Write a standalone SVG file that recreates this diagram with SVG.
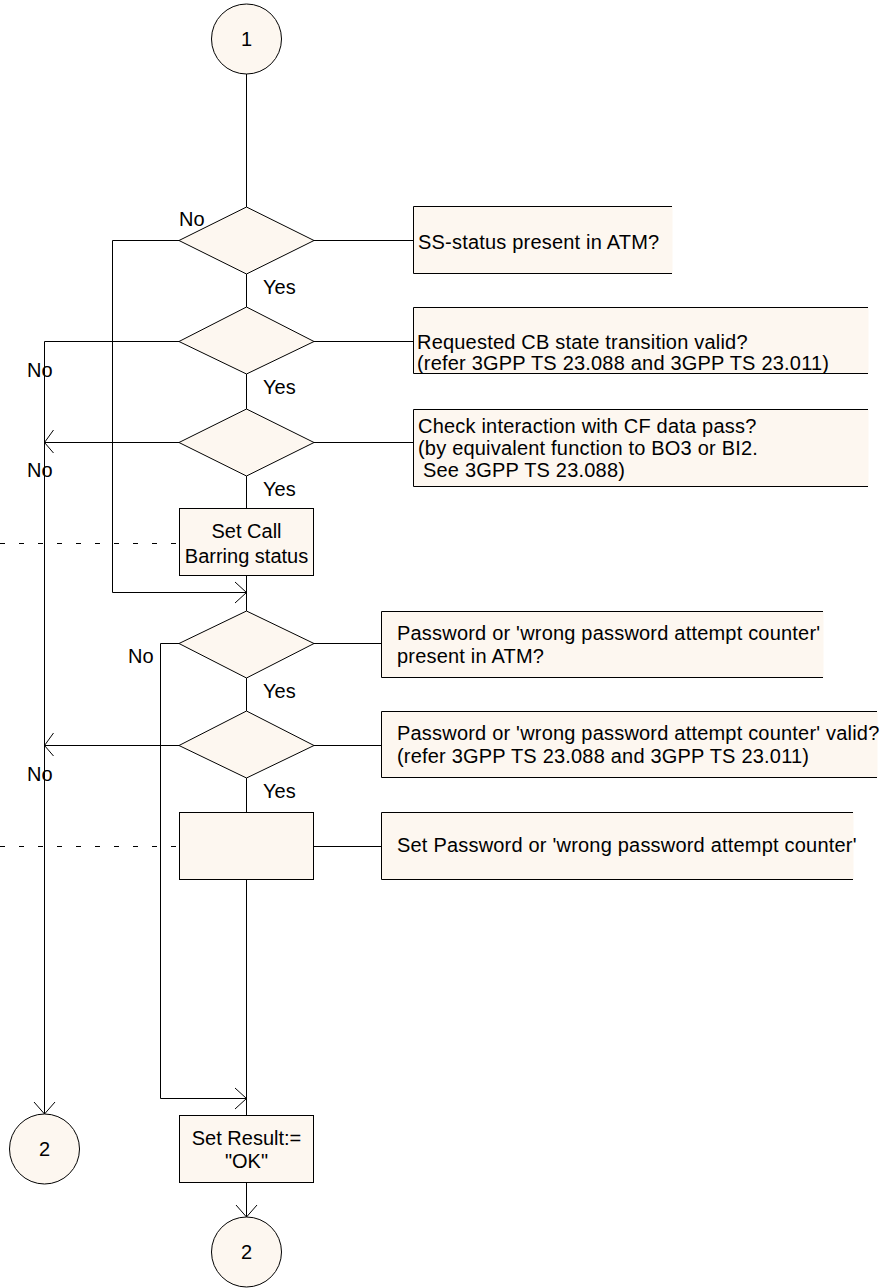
<svg xmlns="http://www.w3.org/2000/svg" width="882" height="1288" viewBox="0 0 882 1288">
  <style>
    .sym { fill: #FDF7F0; stroke: #000; stroke-width: 1; }
    .note { fill: #FDF7F0; stroke: none; }
    .edge { fill: none; stroke: #000; stroke-width: 1; }
    .dash { fill: none; stroke: #000; stroke-width: 1; stroke-dasharray: 5 14; }
    text { font-family: "Liberation Sans", Arial, sans-serif; font-size: 20px; fill: #000; }
    .c { text-anchor: middle; }
    .w { letter-spacing: 0.2px; }
  </style>
  <rect width="882" height="1288" fill="#fff"/>

  <!-- connectors -->
  <g id="connectors">
    <!-- main flow -->
    <path class="edge" d="M246.5 74 V207 M246.5 274 V307 M246.5 374 V409 M246.5 476 V508 M246.5 576 V611 M246.5 678 V711 M246.5 778 V812 M246.5 880 V1115 M246.5 1182 V1217"/>
    <path class="edge" d="M236 1205 L246.5 1217 L257 1205"/>
    <!-- SS-status absent: skip to password check -->
    <path class="edge" d="M179 240.5 H112.5 V592.5 H246.5"/>
    <path class="edge" d="M235 582 L246.5 592.5 L235 603"/>
    <!-- failure exits to connector 2 -->
    <path class="edge" d="M179 341.5 H44.5 V1114"/>
    <path class="edge" d="M34 1102 L44.5 1114 L55 1102"/>
    <path class="edge" d="M179 442.5 H44.5"/>
    <path class="edge" d="M53.5 430 L44.5 442.5 L53.5 453"/>
    <path class="edge" d="M179 745.5 H44.5"/>
    <path class="edge" d="M53.5 733 L44.5 745.5 L53.5 756"/>
    <!-- password absent: skip to result -->
    <path class="edge" d="M179 643.5 H160.5 V1098.5 H246.5"/>
    <path class="edge" d="M235 1088 L246.5 1098.5 L235 1109"/>
    <!-- links to comments -->
    <path class="edge" d="M314 240.5 H413 M314 341.5 H413 M314 442.5 H413 M314 643.5 H381 M314 745.5 H381 M314 846.5 H381"/>
    <!-- dashed off-page links -->
    <path class="dash" d="M0 543.5 H179"/>
    <path class="dash" d="M0 846.5 H179"/>
  </g>

  <!-- start connector -->
  <g id="start1">
    <circle class="sym" cx="246.5" cy="39" r="35"/>
    <text class="c" x="246.5" y="46">1</text>
  </g>

  <g id="dec-ss-status">
    <polygon class="sym" points="246.5,207 314,240.5 246.5,274 179,240.5"/>
    <text x="179" y="226">No</text>
    <text x="263" y="294">Yes</text>
  </g>
  <g id="note-ss-status">
    <rect class="note" x="413.5" y="206.5" width="259" height="67"/>
    <path class="edge" d="M672 206.5 H413.5 V273.5 H672"/>
    <text class="w" x="418" y="249">SS-status present in ATM?</text>
  </g>

  <g id="dec-transition">
    <polygon class="sym" points="246.5,307 314,341.5 246.5,374 179,341.5"/>
    <text x="27" y="377">No</text>
    <text x="263" y="394">Yes</text>
  </g>
  <g id="note-transition">
    <rect class="note" x="413.5" y="307.5" width="455" height="66"/>
    <path class="edge" d="M868 307.5 H413.5 V373.5 H868"/>
    <text class="w" x="417" y="349">Requested CB state transition valid?</text>
    <text class="w" x="417" y="370">(refer 3GPP TS 23.088 and 3GPP TS 23.011)</text>
  </g>

  <g id="dec-cf-interaction">
    <polygon class="sym" points="246.5,409 314,442.5 246.5,476 179,442.5"/>
    <text x="27" y="477">No</text>
    <text x="263" y="496">Yes</text>
  </g>
  <g id="note-cf-interaction">
    <rect class="note" x="413.5" y="409.5" width="455" height="77"/>
    <path class="edge" d="M868 409.5 H413.5 V486.5 H868"/>
    <text class="w" x="418" y="433">Check interaction with CF data pass?</text>
    <text class="w" x="418" y="455">(by equivalent function to BO3 or BI2.</text>
    <text class="w" x="423" y="477">See 3GPP TS 23.088)</text>
  </g>

  <g id="task-cb-status">
    <rect class="sym" x="179.5" y="508.5" width="134" height="67"/>
    <text class="c" x="246.5" y="538">Set Call</text>
    <text class="c" x="246.5" y="563">Barring status</text>
  </g>

  <g id="dec-pw-present">
    <polygon class="sym" points="246.5,611 314,643.5 246.5,678 179,643.5"/>
    <text x="128" y="663">No</text>
    <text x="263" y="698">Yes</text>
  </g>
  <g id="note-pw-present">
    <rect class="note" x="381.5" y="611.5" width="442" height="66"/>
    <path class="edge" d="M823 611.5 H381.5 V677.5 H823"/>
    <text class="w" x="397" y="640">Password or 'wrong password attempt counter'</text>
    <text class="w" x="397" y="663">present in ATM?</text>
  </g>

  <g id="dec-pw-valid">
    <polygon class="sym" points="246.5,711 314,745.5 246.5,778 179,745.5"/>
    <text x="27" y="781">No</text>
    <text x="263" y="798">Yes</text>
  </g>
  <g id="note-pw-valid">
    <rect class="note" x="381.5" y="711.5" width="496" height="66"/>
    <path class="edge" d="M877 711.5 H381.5 V777.5 H877"/>
    <text class="w" x="397" y="740">Password or 'wrong password attempt counter' valid?</text>
    <text class="w" x="397" y="763">(refer 3GPP TS 23.088 and 3GPP TS 23.011)</text>
  </g>

  <g id="task-set-pw">
    <rect class="sym" x="179.5" y="812.5" width="134" height="67"/>
  </g>
  <g id="note-set-pw">
    <rect class="note" x="381.5" y="812.5" width="472" height="67"/>
    <path class="edge" d="M853 812.5 H381.5 V879.5 H853"/>
    <text class="w" x="397" y="852">Set Password or 'wrong password attempt counter'</text>
  </g>

  <g id="task-result-ok">
    <rect class="sym" x="179.5" y="1115.5" width="134" height="67"/>
    <text class="c" x="246.5" y="1145">Set Result:=</text>
    <text class="c" x="246.5" y="1168">"OK"</text>
  </g>

  <g id="exit2-left">
    <circle class="sym" cx="44.5" cy="1149" r="35"/>
    <text class="c" x="44.5" y="1156">2</text>
  </g>

  <g id="exit2-bottom">
    <circle class="sym" cx="246.5" cy="1252" r="35"/>
    <text class="c" x="246.5" y="1259">2</text>
  </g>
</svg>
